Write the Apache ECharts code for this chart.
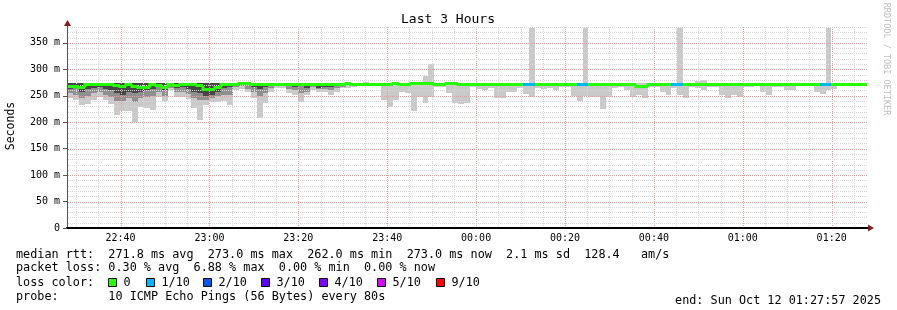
<!DOCTYPE html>
<html><head><meta charset="utf-8">
<script src="https://cdn.jsdelivr.net/npm/echarts@6/dist/echarts.min.js"></script>
<style>html,body{margin:0;padding:0;background:#fff}#c{width:897px;height:310px}</style>
</head><body><div id="c"></div>
<script>
// ---- time base: x values are minutes after 22:00 (Oct 11) ----
const startMin = 27.95;          // 22:27:57
const endMin = 207.95;           // 01:27:57
const stepMin = 80 / 60;         // 80 s per probe round

// ---- median RTT per round (ms) ----
const medianMs = [
 268.5,268.5,266,272,272,272,272,272,270,269,
 272,269,266,266,272,270,267.5,272,271,272,
 272,272,271,262.5,262.5,267,272,272,272,275,
 275,272,272,272,272.5,272.5,272.5,272.5,272.5,272.5,
 272.5,272.5,272.5,272.5,272.5,272.5,272.5,275,273,273,
 273,273,273,273,273,274.5,273,273,274.5,274.5,
 274.5,274.5,273,273,274.5,274.5,273,273,273,273,
 273,273,273,273,273,273,273,273,273,273,
 273,273,273,273,273,273,273,273,273,273,
 273,273,273,273,273,273,268,268,273,273,
 273,273,273,273,273,273,273,273,273,273,
 273,273,273,273,273,273,273,273,273,273,
 273,273,273,273,273,273,273,273,273,273,
 273,273,273,273,273
];
// ---- lowest ping per round (ms) ----
const pingMin = [
 246,242,233,235,242,248,242,235,214,222,
 222,201,229,226,223,248,240,261,248,248,
 243,226,205,232,239,239,241,233,261,263,
 258,246,208,236,257,265,265,255,252,239,
 252,261,258,258,252,258,264,264,267,268,
 268,269,269,242,228,242,258,256,222,247,
 236,247,267,267,255,237,235,237,267,262,
 260,264,245,245,258,258,264,253,247,264,
 262,264,261,267,267,250,241,250,248,248,
 225,248,264,267,260,248,251,245,267,267,
 258,251,264,251,245,267,264,261,267,267,
 251,245,251,248,267,267,270,258,251,267,
 267,261,261,268,268,268,258,253,261,262,
 268,268,268,268,268
];
// ---- highest ping per round (ms) ----
const pingMax = [
 274,274,274,274,274,274,274,274,274,274,
 274,274,274,274,274,274,274,274,274,274,
 274,274,274,274,274,274,274,274,274,276,
 276,274,274,274,274,274,274,274,274,274,
 274,274,274,274,274,274,274,276,274,274,
 276,274,274,274,274,275,274,274,275,275,
 288,310,274,274,275,275,274,274,274,274,
 274,274,274,274,274,274,274,274,378,274,
 274,274,274,274,274,274,274,378,274,274,
 274,274,274,274,274,274,274,274,274,274,
 274,274,274,378,274,274,278,280,274,274,
 274,274,274,274,274,274,274,274,274,274,
 274,274,274,274,274,274,274,274,378,274,
 274,274,274,274,274
];
// ---- inner smoke: lower edge of mid-grey band / dark band (first rounds only) ----
const pingLoMid = [
 255,252,245,250,255,258,252,248,240,240,
 245,238,245,248,250,258,250,265,258,258,
 254,245,242,242,245,250,252,252,266,268,
 262,258,250,256,264,270,268,262,260,255,
 258,266,262,262,260,264,266
];
const pingLoDark = [
 262,264,258,262,264,266,262,260,255,252,
 258,255,258,260,262,266,260,268,265,266,
 262,258,255,250,252,258,264,266,270,272,
 270,266,262,266,268,272,272,268,266,268,
 264,270,264,266,266,268,270
];
// ---- rounds with 1/10 packets lost ----
const lossOneBins = [77,78,86,87,102,103,127,128];

// ---- axes / grid ----
const yMax = 380;
const xMajorStep = 20, xMinorStep = 5;     // minutes
const yMajorStep = 50, yMinorStep = 10;    // ms

// ---- legend ----
const lossColors = ['#26ff00','#00b8ff','#0059ff','#5e00ff','#7e00ff','#dd00ff','#ff0000'];
const lossLabels = ['0','1/10','2/10','3/10','4/10','5/10','9/10'];
const legendLines = [
 'median rtt:  271.8 ms avg  273.0 ms max  262.0 ms min  273.0 ms now  2.1 ms sd  128.4   am/s',
 'packet loss: 0.30 % avg  6.88 % max  0.00 % min  0.00 % now',
 'loss color:',
 'probe:       10 ICMP Echo Pings (56 Bytes) every 80s'
];
const endText = 'end: Sun Oct 12 01:27:57 2025';

const FONT = "'DejaVu Sans Mono', monospace";
const pad = n => String(n).padStart(2, '0');
const fmtTime = v => { const m = Math.round(v); return pad((22 + Math.floor(m / 60)) % 24) + ':' + pad(m % 60); };

const rows = medianMs.map((m, i) => {
  const t0 = startMin + i * stepMin;
  return [t0, t0 + stepMin, pingMin[i],
    pingLoMid[i] != null ? pingLoMid[i] : -1,
    pingLoDark[i] != null ? pingLoDark[i] : -1,
    m, pingMax[i], lossOneBins.includes(i) ? 1 : 0, i > 0 ? medianMs[i - 1] : m];
});

// grid-line ticks: [orientation (0 vertical / 1 horizontal), value, major?]
const gridRows = [];
for (let v = Math.ceil(startMin / xMinorStep) * xMinorStep; v < endMin; v += xMinorStep)
  gridRows.push([0, v, v % xMajorStep === 0 ? 1 : 0]);
for (let v = yMinorStep; v <= yMax; v += yMinorStep)
  gridRows.push([1, v, v % yMajorStep === 0 ? 1 : 0]);

function smokeItem(params, api) {
  const t0 = api.value(0), t1 = api.value(1);
  const x0 = Math.round(api.coord([t0, 0])[0]), x1 = Math.round(api.coord([t1, 0])[0]);
  const Y = v => Math.round(api.coord([t0, v])[1]);
  const top = Y(api.value(6));
  const band = (lo, fill) => ({ type: 'rect', shape: { x: x0, y: top, width: x1 - x0, height: Y(lo) - top }, style: { fill } });
  const kids = [band(api.value(2), '#c9c9c9')];
  if (api.value(3) > 0) kids.push(band(api.value(3), '#8f8f8f'));
  if (api.value(4) > 0) kids.push(band(api.value(4), '#464646'));
  return { type: 'group', children: kids };
}
function medianItem(params, api) {
  const t0 = api.value(0), t1 = api.value(1);
  const x0 = Math.round(api.coord([t0, 0])[0]), x1 = Math.round(api.coord([t1, 0])[0]);
  const y = Math.round(api.coord([t0, api.value(5)])[1]) + 0.5;
  const yp = Math.round(api.coord([t0, api.value(8)])[1]) + 0.5;
  return { type: 'polyline', shape: { points: [[x0, yp], [x0, y], [x1, y]] },
    style: { stroke: lossColors[api.value(7)], lineWidth: 3, fill: null, lineJoin: 'miter', lineCap: 'butt' } };
}
function gridItem(params, api) {
  const kind = api.value(0), v = api.value(1), major = api.value(2);
  const style = { stroke: major ? '#f29a9a' : '#d6d6d6', lineWidth: 1, lineDash: [1, 1], fill: null };
  const a = api.coord([startMin, 0]), b = api.coord([endMin, yMax]);
  if (kind === 0) {
    const x = Math.round(api.coord([v, 0])[0]) + 0.5;
    return { type: 'line', shape: { x1: x, y1: Math.round(b[1]), x2: x, y2: Math.round(a[1]) - 1 }, style };
  }
  const y = Math.round(api.coord([startMin, v])[1]) + 0.5;
  return { type: 'line', shape: { x1: Math.round(a[0]) + 1, y1: y, x2: Math.round(b[0]), y2: y }, style };
}

const graphics = [
  { type: 'text', x: 448, y: 20, style: { text: 'Last 3 Hours', font: '13px ' + FONT, fill: '#000', textAlign: 'center', textVerticalAlign: 'middle' } },
  { type: 'text', x: 11, y: 126, rotation: Math.PI / 2, style: { text: 'Seconds', font: '11.5px ' + FONT, fill: '#000', textAlign: 'center', textVerticalAlign: 'middle' } },
  { type: 'text', x: 886, y: 59, rotation: -Math.PI / 2, style: { text: 'RRDTOOL / TOBI OETIKER', font: '8.5px ' + FONT, fill: '#c0c0c0', textAlign: 'center', textVerticalAlign: 'middle' } },
  { type: 'line', shape: { x1: 67.5, y1: 23, x2: 67.5, y2: 27 }, style: { stroke: '#555', lineWidth: 1 } },
  { type: 'polygon', shape: { points: [[64, 26], [71, 26], [67.5, 20]] }, style: { fill: '#8b1a1a' } },
  { type: 'line', shape: { x1: 867, y1: 228, x2: 869, y2: 228 }, style: { stroke: '#000', lineWidth: 2 } },
  { type: 'polygon', shape: { points: [[868, 224.5], [868, 231.5], [874, 228]] }, style: { fill: '#8b1a1a' } },
  { type: 'text', x: 881, y: 301, style: { text: endText, font: '11.8px ' + FONT, fill: '#000', textAlign: 'right', textVerticalAlign: 'middle' } }
];
const lineY = [254.7, 268.4, 282.6, 296.7];
legendLines.forEach((t, i) => graphics.push({ type: 'text', x: 16, y: lineY[i], style: { text: t, font: '11.8px ' + FONT, fill: '#000', textVerticalAlign: 'middle' } }));
const boxX = [108.5, 146.5, 203.5, 261.5, 319.5, 377.5, 436.5];
lossLabels.forEach((lab, i) => {
  graphics.push({ type: 'rect', shape: { x: boxX[i], y: 278.5, width: 8, height: 8 }, style: { fill: lossColors[i], stroke: '#000', lineWidth: 1 } });
  graphics.push({ type: 'text', x: boxX[i] + 15, y: lineY[2], style: { text: lab, font: '11.8px ' + FONT, fill: '#000', textVerticalAlign: 'middle' } });
});

const chart = echarts.init(document.getElementById('c'), null, { renderer: 'canvas', width: 897, height: 310 });
chart.setOption({
  animation: false,
  backgroundColor: '#ffffff',
  grid: { left: 67, right: 30, top: 27, bottom: 82, containLabel: false },
  xAxis: {
    type: 'value', min: startMin, max: endMin, minInterval: xMajorStep, maxInterval: xMajorStep, z: 11,
    axisLine: { show: true, onZero: false, lineStyle: { color: '#000', width: 2 } }, axisTick: { show: false },
    axisLabel: { formatter: fmtTime, fontFamily: FONT, fontSize: 10, color: '#000', margin: 5, showMinLabel: false, showMaxLabel: false },
    splitLine: { show: false }
  },
  yAxis: {
    type: 'value', min: 0, max: yMax, interval: yMajorStep, z: 11,
    axisLine: { show: true, onZero: false, lineStyle: { color: '#555' } },
    axisTick: { show: true, length: 4, lineStyle: { color: '#555' } },
    axisLabel: { formatter: v => v === 0 ? '0' : v + ' m', fontFamily: FONT, fontSize: 10, color: '#000', margin: 7, showMaxLabel: false },
    splitLine: { show: false }
  },
  series: [
    { type: 'custom', renderItem: smokeItem, data: rows, z: 2, silent: true, encode: { x: [0, 1], y: [2, 6] } },
    { type: 'custom', renderItem: gridItem, data: gridRows, z: 3, silent: true, encode: { x: -1, y: -1 } },
    { type: 'custom', renderItem: medianItem, data: rows, z: 4, silent: true, encode: { x: [0, 1], y: [5] } }
  ],
  graphic: graphics
});
</script></body></html>
